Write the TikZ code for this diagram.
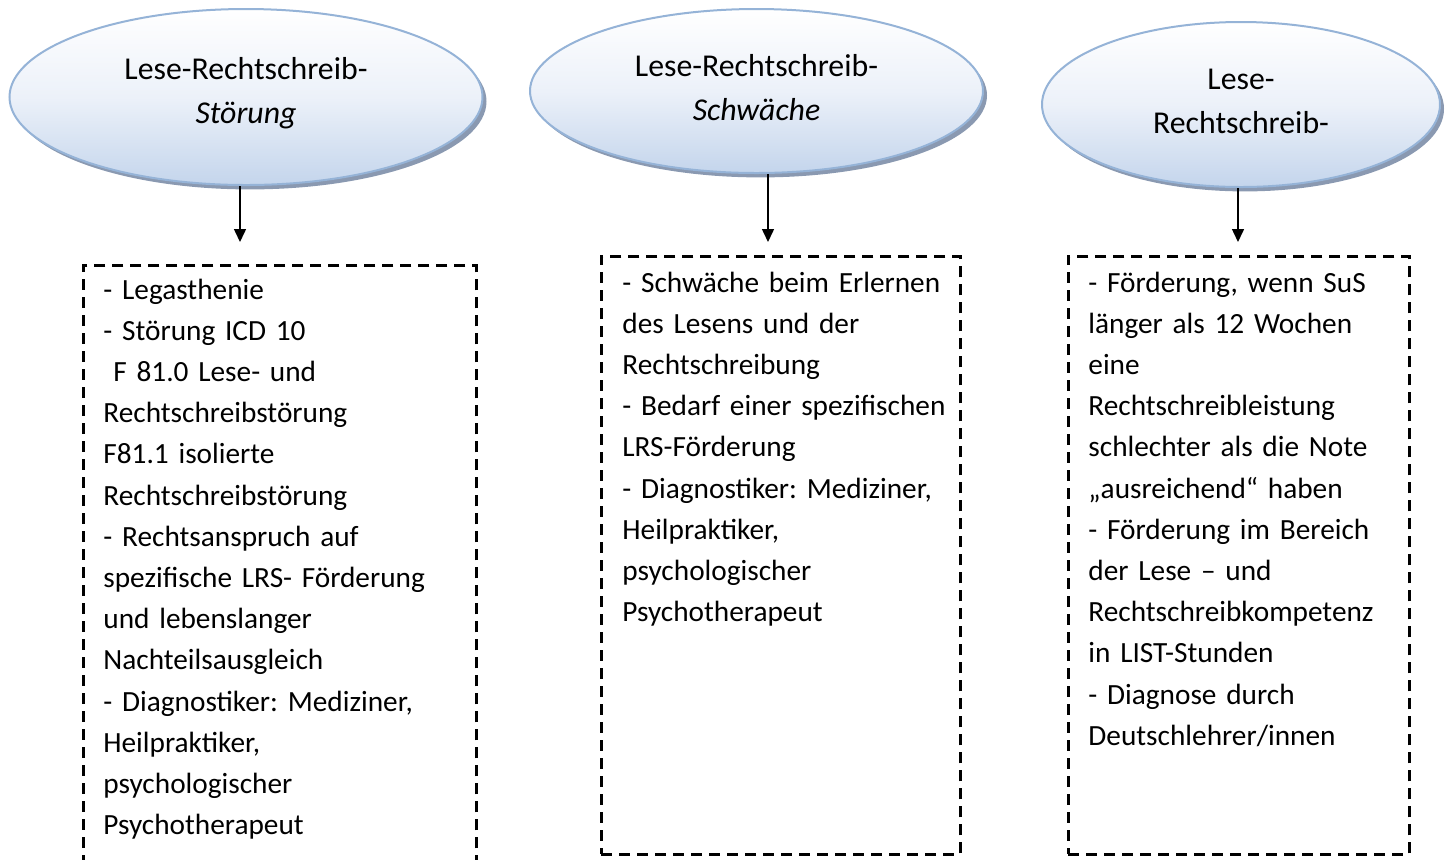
\documentclass[tikz,border=0pt]{standalone}
\usepackage{fontspec}
\setmainfont{Carlito}
\usetikzlibrary{shapes.geometric,shadows,arrows.meta}
\definecolor{ellborder}{RGB}{149,179,215}
\definecolor{elltop}{RGB}{255,255,255}
\definecolor{ellmid}{RGB}{236,241,249}
\definecolor{ellbottom}{RGB}{196,213,236}
\definecolor{ellshadow}{RGB}{138,153,177}
\DeclareRobustCommand{\bodyfont}{\frenchspacing\fontsize{14.65}{20.6}\selectfont\spaceskip=0.2em\relax}
\tikzset{
  ovalnode/.style={ellipse, draw=ellborder, line width=1pt, shading=axis,
    top color=elltop, bottom color=ellbottom, middle color=ellmid,
    inner sep=0pt, align=center,
    font=\fontsize{15.9}{22}\selectfont,
    drop shadow={shadow xshift=2pt, shadow yshift=-2.2pt, fill=ellshadow, opacity=1}},
  dashbox/.style={draw=black, line width=1.35pt, dash pattern=on 5.5pt off 3.5pt,
    rectangle, inner sep=0pt, anchor=north west},
  boxtext/.style={anchor=base west, inner sep=0pt, text width=200pt, align=left,
    font=\bodyfont},
  downarrow/.style={line width=0.75pt, -{Triangle[width=6pt,length=6.5pt]}}
}
\begin{document}
\begin{tikzpicture}[x=0.5pt,y=-0.5pt]
\clip (0,0) rectangle (1446,859);
\useasboundingbox (0,0) rectangle (1446,859);

% ellipses
\node[ovalnode, minimum width=236.5pt, minimum height=88pt] (e1) at (246,97)
  {Lese-Rechtschreib-\\\textit{Störung}\\[-15pt]\mbox{}};
\node[ovalnode, minimum width=226.5pt, minimum height=82pt] (e2) at (756.5,91)
  {Lese-Rechtschreib-\\\textit{Schwäche}\\[-18.5pt]\mbox{}};
\node[ovalnode, minimum width=199pt, minimum height=82.5pt] (e3) at (1241,104.5)
  {Lese-\\Rechtschreib-\\[-18.5pt]\mbox{}};

% boxes
\node[dashbox, minimum width=196.5pt, minimum height=320pt] (b1) at (82,264) {};
\node[dashbox, minimum width=179.5pt, minimum height=299pt] (b2) at (600,255) {};
\node[dashbox, minimum width=170.5pt, minimum height=299pt] (b3) at (1067,255) {};

% arrows
\coordinate (a1) at (240,242);
\coordinate (a2) at (768,242);
\coordinate (a3) at (1238,242);
\draw[downarrow] (e1.south -| a1) -- (a1);
\draw[downarrow] (e2.south -| a2) -- (a2);
\draw[downarrow] (e3.south -| a3) -- (a3);

% texts
\node[boxtext] (t1) at (103,299) {- Legasthenie\\
- Störung ICD 10\\
\hspace*{5pt}F 81.0 Lese- und\\
Rechtschreibstörung\\
F81.1 isolierte\\
Rechtschreibstörung\\
- Rechtsanspruch auf\\
spezifische LRS- Förderung\\
und lebenslanger\\
Nachteilsausgleich\\
- Diagnostiker: Mediziner,\\
Heilpraktiker,\\
psychologischer\\
Psychotherapeut};

\node[boxtext] (t2) at (622,292) {- Schwäche beim Erlernen\\
des Lesens und der\\
Rechtschreibung\\
- Bedarf einer spezifischen\\
LRS-Förderung\\
- Diagnostiker: Mediziner,\\
Heilpraktiker,\\
psychologischer\\
Psychotherapeut};

\node[boxtext] (t3) at (1088,292) {- Förderung, wenn SuS\\
länger als 12 Wochen\\
eine\\
Rechtschreibleistung\\
schlechter als die Note\\
„ausreichend“ haben\\
- Förderung im Bereich\\
der Lese – und\\
Rechtschreibkompetenz\\
in LIST-Stunden\\
- Diagnose durch\\
Deutschlehrer/innen};
\end{tikzpicture}
\end{document}
